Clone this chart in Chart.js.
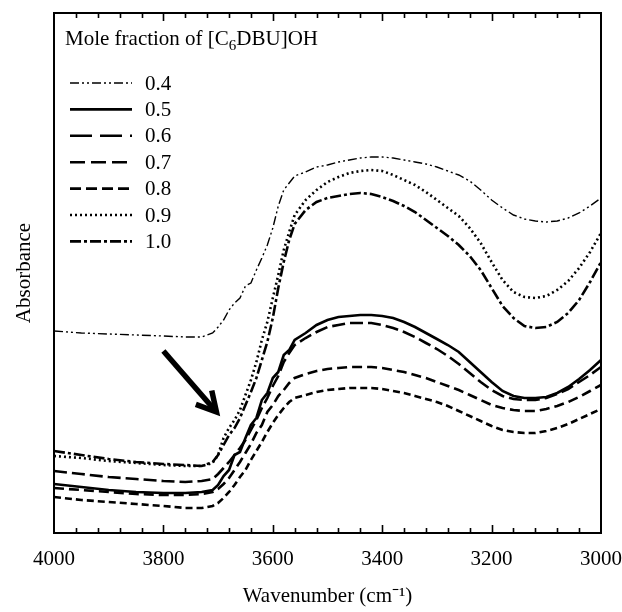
<!DOCTYPE html>
<html>
<head>
<meta charset="utf-8">
<script src="https://cdn.jsdelivr.net/npm/chart.js@4.4.1/dist/chart.umd.min.js"></script>
<style>
  html, body { margin: 0; padding: 0; background: #fff; }
  #wrap { width: 622px; height: 612px; }
</style>
</head>
<body>
<div id="wrap"><canvas id="irChart" width="622" height="612"></canvas></div>
<script>
// Wavenumbers (cm-1) shared by every spectrum
const wavenumbers = [4000, 3950, 3900, 3850, 3800, 3760, 3730, 3710,
    3700, 3690, 3680, 3670, 3660, 3650, 3640, 3630, 3620, 3610, 3600, 3590, 3580, 3570, 3560,
    3540, 3520, 3500, 3480, 3460, 3440, 3420, 3400, 3380, 3360, 3340, 3320, 3300, 3280, 3260,
    3240, 3220, 3200, 3180, 3160, 3140, 3120, 3100, 3080, 3060, 3040, 3020, 3000];

// Mole fraction of [C6DBU]OH
const seriesLabels = ['0.4', '0.5', '0.6', '0.7', '0.8', '0.9', '1.0'];

// Absorbance (arbitrary units)
const abs04 = [202, 200, 199, 198, 197, 196, 196, 200,
    206, 213, 223, 230, 235, 247, 250, 263, 275, 288, 305, 327, 343, 350, 357,
    361, 366, 368, 371, 373, 375, 376, 376, 375, 373, 371, 369, 366, 362, 358,
    352, 343, 333, 325, 318, 314, 312, 311, 312, 315, 320, 327, 335];
const abs05 = [49, 46, 43, 41, 40, 40, 41, 43,
    48, 57, 63, 78, 81, 95, 108, 115, 133, 140, 155, 161, 178, 183, 193,
    200, 208, 213, 216, 217, 218, 218, 217, 215, 211, 206, 200, 194, 188, 181,
    171, 161, 151, 142, 137, 135, 135, 136, 140, 146, 154, 163, 173];
const abs06 = [62, 59, 56, 54, 52, 51, 52, 54,
    59, 65, 71, 78, 85, 93, 103, 113, 125, 135, 147, 157, 171, 180, 188,
    195, 201, 206, 208, 210, 210, 210, 208, 205, 201, 196, 190, 184, 177, 169,
    160, 151, 143, 137, 134, 133, 133, 135, 139, 144, 151, 158, 166];
const abs07 = [45, 43, 41, 39, 38, 38, 39, 41,
    44, 49, 55, 63, 71, 80, 89, 100, 108, 121, 128, 137, 143, 150, 155,
    159, 162, 164, 165, 166, 166, 166, 165, 163, 161, 158, 155, 151, 147, 143,
    138, 133, 128, 125, 123, 122, 122, 124, 127, 131, 136, 142, 148];
const abs08 = [36, 33, 31, 29, 27, 25, 25, 27,
    30, 35, 41, 48, 56, 63, 73, 82, 91, 101, 110, 118, 125, 131, 135,
    138, 141, 143, 144, 145, 145, 145, 144, 142, 140, 137, 134, 131, 127, 122,
    117, 112, 107, 103, 101, 100, 100, 102, 105, 109, 114, 119, 124];
const abs09 = [77, 75, 72, 70, 68, 67, 67, 70,
    78, 95, 105, 113, 123, 138, 153, 171, 193, 211, 235, 258, 283, 301, 318,
    333, 343, 351, 356, 360, 362, 363, 362, 358, 353, 348, 341, 333, 325, 317,
    305, 290, 271, 253, 241, 236, 235, 237, 243, 252, 265, 281, 300];
const abs10 = [82, 78, 74, 71, 69, 68, 67, 71,
    78, 88, 98, 105, 115, 128, 141, 155, 173, 191, 215, 245, 271, 293, 309,
    323, 331, 335, 337, 339, 340, 339, 336, 332, 327, 321, 313, 305, 297, 288,
    277, 263, 245, 227, 215, 207, 205, 206, 211, 220, 233, 251, 271];

const allSeries = [abs04, abs05, abs06, abs07, abs08, abs09, abs10];

// Axis ticks
const xTicks = [4000, 3800, 3600, 3400, 3200, 3000];
const minorStep = 40;

// Arrow pointing at the 3700 cm-1 shoulder (data coordinates)
const arrowFrom = { x: 3800, y: 182 };
const arrowTo = { x: 3703, y: 121 };

// Line style for each mole fraction
const lineStyles = [
    { width: 1.4, dash: [9, 3, 2, 3, 2, 3], legendDash: [9, 3, 2, 3, 2, 3] },
    { width: 2.6, dash: [], legendDash: [] },
    { width: 2.6, dash: [13, 5], legendDash: [22, 8] },
    { width: 2.6, dash: [10, 5], legendDash: [15, 6] },
    { width: 2.6, dash: [7, 4], legendDash: [11, 5] },
    { width: 2.6, dash: [2, 3], legendDash: [2, 3] },
    { width: 2.6, dash: [11, 3, 3, 3], legendDash: [11, 3, 3, 3] }
];

const serif = '"Liberation Serif", "Times New Roman", serif';

// Builds the datasets from the arrays above
function buildDatasets() {
    return allSeries.map((values, i) => ({
        label: seriesLabels[i],
        data: values.map((v, j) => ({ x: wavenumbers[j], y: v })),
        borderColor: '#000',
        borderWidth: lineStyles[i].width,
        borderDash: lineStyles[i].dash,
        borderCapStyle: 'butt',
        pointRadius: 0,
        tension: 0,
        fill: false
    }));
}

// Frame, inward ticks, legend and arrow
const decorations = {
    id: 'decorations',
    afterDraw(chart) {
        const ctx = chart.ctx;
        const area = chart.chartArea;
        const xs = chart.scales.x;
        const ys = chart.scales.y;
        ctx.save();

        // Frame
        ctx.strokeStyle = '#000';
        ctx.lineWidth = 2;
        ctx.setLineDash([]);
        ctx.strokeRect(area.left, area.top, area.right - area.left, area.bottom - area.top);

        // Ticks on the top and bottom axes
        ctx.lineWidth = 1.6;
        for (let w = 4000; w >= 3000; w -= minorStep) {
            if (w === 4000 || w === 3000) continue;
            const px = Math.round(xs.getPixelForValue(w)) + 0.5;
            const len = (w % 200 === 0) ? 8 : 5;
            ctx.beginPath();
            ctx.moveTo(px, area.bottom);
            ctx.lineTo(px, area.bottom - len);
            ctx.moveTo(px, area.top);
            ctx.lineTo(px, area.top + len);
            ctx.stroke();
        }

        // Legend
        ctx.fillStyle = '#000';
        ctx.textBaseline = 'alphabetic';
        ctx.textAlign = 'left';
        ctx.font = '21px ' + serif;
        let tx = 65;
        const ty = 45;
        ctx.fillText('Mole fraction of [C', tx, ty);
        tx += ctx.measureText('Mole fraction of [C').width;
        ctx.font = '15px ' + serif;
        ctx.fillText('6', tx, ty + 5);
        tx += ctx.measureText('6').width;
        ctx.font = '21px ' + serif;
        ctx.fillText('DBU]OH', tx, ty);

        ctx.textBaseline = 'middle';
        seriesLabels.forEach((label, i) => {
            const y = 83 + i * 26.4;
            ctx.lineWidth = lineStyles[i].width;
            ctx.setLineDash(lineStyles[i].legendDash);
            ctx.beginPath();
            ctx.moveTo(70, y);
            ctx.lineTo(132, y);
            ctx.stroke();
            ctx.setLineDash([]);
            ctx.fillText(label, 145, y + 1);
        });

        // Arrow
        const x1 = xs.getPixelForValue(arrowFrom.x);
        const y1 = ys.getPixelForValue(arrowFrom.y);
        const x2 = xs.getPixelForValue(arrowTo.x);
        const y2 = ys.getPixelForValue(arrowTo.y);
        const ang = Math.atan2(y2 - y1, x2 - x1);
        const head = 22;
        ctx.lineWidth = 5.5;
        ctx.lineCap = 'butt';
        ctx.lineJoin = 'miter';
        ctx.beginPath();
        ctx.moveTo(x1, y1);
        ctx.lineTo(x2 - 3 * Math.cos(ang), y2 - 3 * Math.sin(ang));
        ctx.stroke();
        ctx.beginPath();
        ctx.moveTo(x2 - head * Math.cos(ang - 0.5), y2 - head * Math.sin(ang - 0.5));
        ctx.lineTo(x2, y2);
        ctx.lineTo(x2 - head * Math.cos(ang + 0.5), y2 - head * Math.sin(ang + 0.5));
        ctx.stroke();

        ctx.restore();
    }
};

// Draws the chart
function initChart() {
    const canvas = document.getElementById('irChart');
    new Chart(canvas, {
        type: 'line',
        data: { datasets: buildDatasets() },
        plugins: [decorations],
        options: {
            responsive: false,
            animation: false,
            devicePixelRatio: 1,
            layout: { padding: { top: 13, right: 21, left: 0, bottom: 0 } },
            plugins: {
                legend: { display: false },
                tooltip: { enabled: false }
            },
            scales: {
                x: {
                    type: 'linear',
                    reverse: true,
                    min: 3000,
                    max: 4000,
                    grid: { display: false, drawTicks: false },
                    border: { display: false },
                    afterBuildTicks: scale => {
                        scale.ticks = xTicks.map(v => ({ value: v }));
                    },
                    afterFit: scale => {
                        scale.height = 79;
                        // labels at the ends may overhang the frame
                        scale.paddingLeft = 0;
                        scale.paddingRight = 0;
                    },
                    ticks: {
                        autoSkip: false,
                        maxRotation: 0,
                        padding: 14,
                        color: '#000',
                        font: { family: serif, size: 21 },
                        callback: v => String(v)
                    },
                    title: {
                        display: true,
                        text: 'Wavenumber (cm\u207B\u00B9)',
                        color: '#000',
                        font: { family: serif, size: 21 },
                        padding: { top: 0, bottom: 3 }
                    }
                },
                y: {
                    type: 'linear',
                    min: 0,
                    max: 520,
                    grid: { display: false, drawTicks: false },
                    border: { display: false },
                    ticks: { display: false },
                    afterFit: scale => { scale.width = 54; },
                    title: {
                        display: true,
                        text: 'Absorbance',
                        color: '#000',
                        font: { family: serif, size: 21 },
                        padding: { top: 12, bottom: 0 }
                    }
                }
            }
        }
    });
}

document.addEventListener('DOMContentLoaded', initChart);
</script>
</body>
</html>
